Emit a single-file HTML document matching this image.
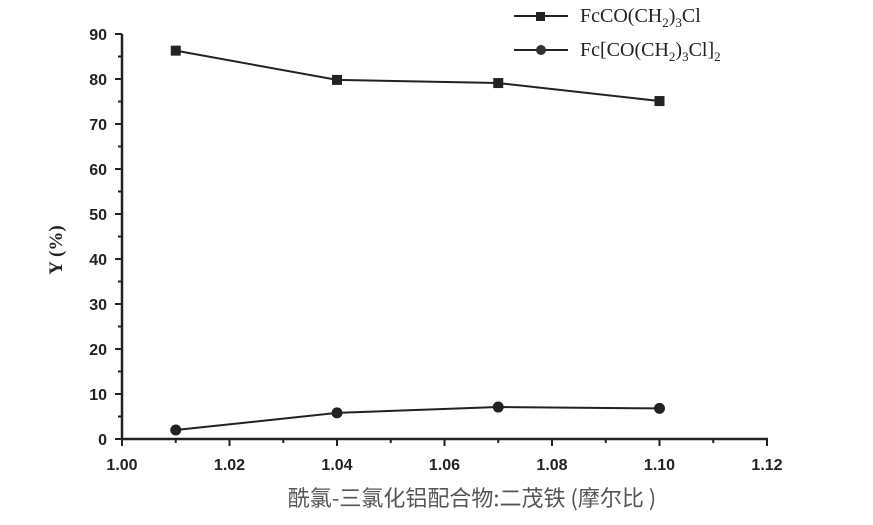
<!DOCTYPE html>
<html><head><meta charset="utf-8">
<style>
html,body{margin:0;padding:0;background:#fff;}
svg{display:block;}
.tk{font-family:"Liberation Sans",sans-serif;font-weight:bold;font-size:16px;fill:#222;}
.lg{font-family:"Liberation Serif",serif;font-size:20px;fill:#222;}
</style></head>
<body>
<svg id="chart" width="873" height="525" viewBox="0 0 873 525">
<g id="axes"></g>
<g id="series"></g>
<text x="62" y="250" transform="rotate(-90 62 250)" text-anchor="middle" class="lg" style="font-weight:bold;font-size:19px">Y (%)</text>
<text x="472" y="506" text-anchor="middle" style="font-family:'Noto Sans CJK SC','Liberation Sans',sans-serif;font-size:22px;fill:#555">酰氯-三氯化铝配合物:二茂铁 (摩尔比 )</text>
<g>
<g>
<line x1="514" y1="16" x2="568" y2="16" stroke="#222" stroke-width="2"/>
<rect x="536" y="12" width="9" height="9" fill="#222"/>
<text x="580" y="22" class="lg">FcCO(CH<tspan font-size="13" dy="5">2</tspan><tspan dy="-5">)</tspan><tspan font-size="13" dy="5">3</tspan><tspan dy="-5">Cl</tspan></text>
</g>
<g>
<line x1="514" y1="50" x2="568" y2="50" stroke="#222" stroke-width="2"/>
<circle cx="541" cy="50" r="5" fill="#333"/>
<text x="580" y="56" class="lg">Fc[CO(CH<tspan font-size="13" dy="5">2</tspan><tspan dy="-5">)</tspan><tspan font-size="13" dy="5">3</tspan><tspan dy="-5">Cl]</tspan><tspan font-size="13" dy="5">2</tspan></text>
</g>
</g>
</svg>
<script>
const xValues=[1.01,1.04,1.07,1.10];
const monoValues=[86.3,79.8,79.1,75.1];
const diValues=[2.0,5.8,7.1,6.8];
const xTickLabels=["1.00","1.02","1.04","1.06","1.08","1.10","1.12"];
const yTickLabels=["0","10","20","30","40","50","60","70","80","90"];

const NS="http://www.w3.org/2000/svg";
function X(v){return 122+(v-1.00)/0.12*645;}
function Y(v){return 439-v/90*405;}
function mk(tag,attrs,parent){const e=document.createElementNS(NS,tag);for(const k in attrs)e.setAttribute(k,attrs[k]);parent.appendChild(e);return e;}
const axes=document.getElementById('axes');
let l=mk('line',{x1:122,y1:Y(90),x2:122,y2:439,stroke:'#222','stroke-width':2.5},axes);


l=mk('line',{x1:121,y1:439,x2:X(1.12)+1,y2:439,stroke:'#222','stroke-width':2.5},axes);


for(let i=0;i<=18;i++){const v=i*5;const len=i%2?4:7;
 mk('line',{x1:122-len,y1:Y(v),x2:122,y2:Y(v),stroke:'#222','stroke-width':2},axes);}
yTickLabels.forEach(t=>{const tx=mk('text',{x:107,y:Y(+t)+6,'text-anchor':'end',class:'tk'},axes);tx.textContent=t;
 
 });
for(let i=0;i<=12;i++){const v=1+i*0.01;const len=i%2?4:7;
 mk('line',{x1:X(v),y1:439,x2:X(v),y2:439+len,stroke:'#222','stroke-width':2},axes);}
xTickLabels.forEach(t=>{const tx=mk('text',{x:X(+t),y:470,'text-anchor':'middle',class:'tk'},axes);tx.textContent=t;
 
 });

const ser=document.getElementById('series');
function line(vals,name){const p=mk('polyline',{points:vals.map((v,i)=>X(xValues[i])+','+Y(v)).join(' '),fill:'none',stroke:'#222','stroke-width':2},ser);
 
 }
line(monoValues,'line-mono');
line(diValues,'line-di');
monoValues.forEach((v,i)=>{const r=mk('rect',{x:X(xValues[i])-5,y:Y(v)-5,width:10,height:10,fill:'#222'},ser);
 
 });
diValues.forEach((v,i)=>{const c=mk('circle',{cx:X(xValues[i]),cy:Y(v),r:5.5,fill:'#222'},ser);
 
 });
</script>
</body></html>
